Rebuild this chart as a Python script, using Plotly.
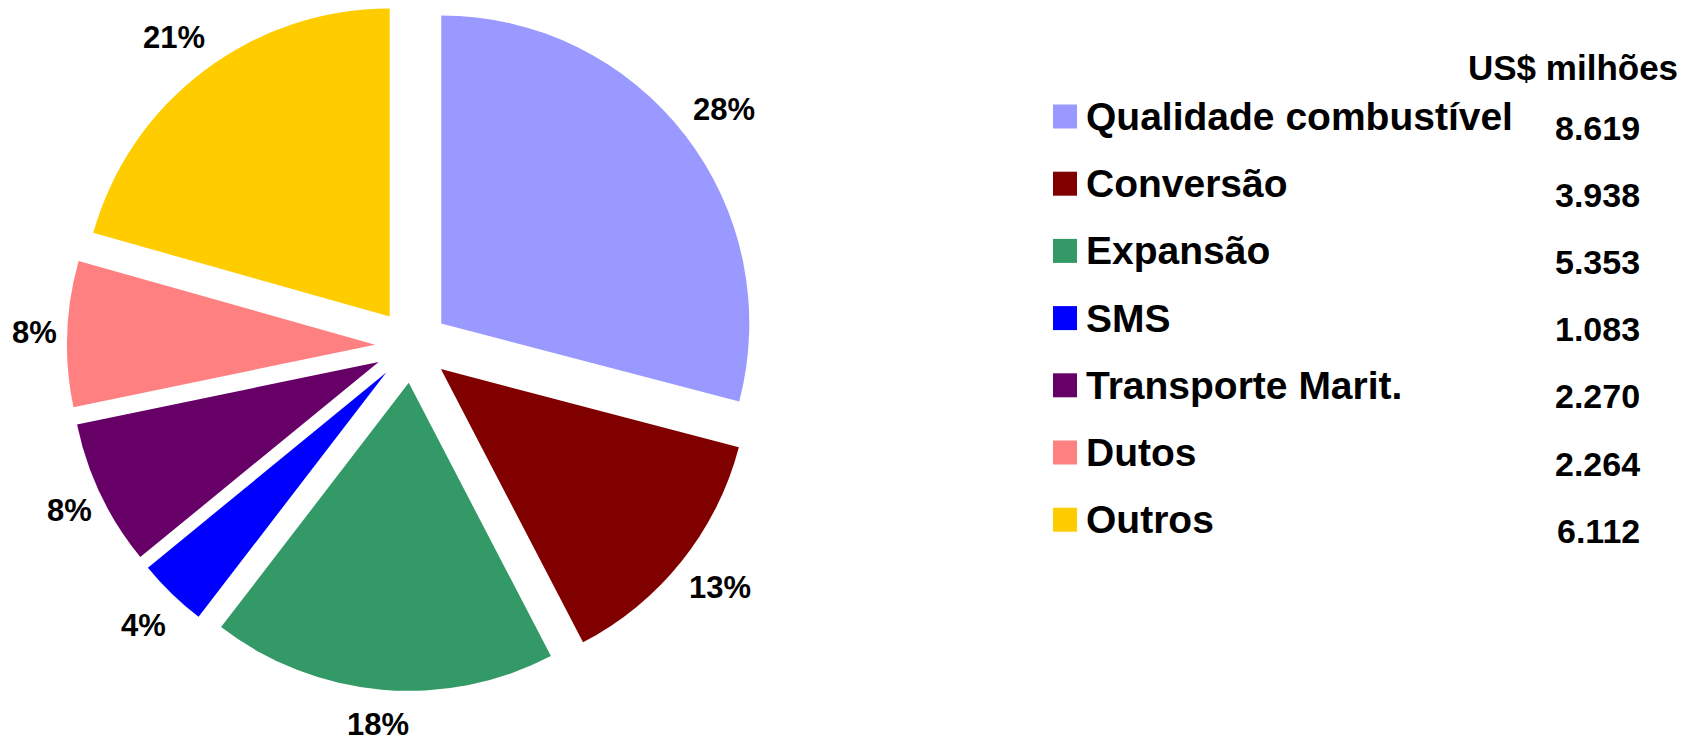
import numpy as np
import plotly.graph_objects as go

categories = ["Qualidade combustível", "Conversão", "Expansão", "SMS",
              "Transporte Marit.", "Dutos", "Outros"]
values = [8619, 3938, 5353, 1083, 2270, 2264, 6112]
value_labels = ["8.619", "3.938", "5.353", "1.083", "2.270", "2.264", "6.112"]
pct_labels = ["28%", "13%", "18%", "4%", "8%", "8%", "21%"]
colors = ["#9999FF", "#800000", "#339966", "#0000FF", "#660066", "#FF8080", "#FFCC00"]
header = "US$ milhões"

W, H = 1708, 745
FONT = "Arial, Liberation Sans, sans-serif"

# pie geometry (pixels)
CX, CY, HALF = 412, 346, 345
PULL = 0.12
LABEL_R0 = 355      # distance from centre where the label box begins
PCT_SIZE = 31
LABEL_HALF_H = 25

fig = go.Figure(go.Pie(
    labels=categories,
    values=values,
    textinfo="none",
    marker=dict(colors=colors, line=dict(width=0)),
    pull=[PULL] * len(values),
    sort=False,
    direction="clockwise",
    rotation=0,
    showlegend=False,
    automargin=False,
    hoverinfo="label+value",
    domain=dict(x=[(CX - HALF) / W, (CX + HALF) / W],
                y=[1 - (CY + HALF) / H, 1 - (CY - HALF) / H]),
))

annotations = []
shapes = []

# percentage labels placed just outside each slice (angles derived from values)
vals = np.array(values, dtype=float)
cum = np.cumsum(vals)
mid = (cum - vals / 2) / vals.sum() * 2 * np.pi
for lab, a in zip(pct_labels, mid):
    dx, dy = np.sin(a), -np.cos(a)
    m = max(abs(dx), abs(dy))
    half_w = (0.556 * (len(lab) - 1) + 0.889) * PCT_SIZE / 2
    px = CX + LABEL_R0 * dx + half_w * dx / m
    py = CY + LABEL_R0 * dy + LABEL_HALF_H * dy / m
    annotations.append(dict(text=lab, xref="paper", yref="paper",
                            x=px / W, y=1 - py / H, xanchor="center", yanchor="middle",
                            showarrow=False,
                            font=dict(family=FONT, size=PCT_SIZE, color="black", weight="bold")))

# Legend built from the category arrays
row0, step = 116.5, 67.2
val0 = 127.5
for i, (cat, col, v) in enumerate(zip(categories, colors, value_labels)):
    yc = row0 + i * step
    shapes.append(dict(type="rect", xref="paper", yref="paper",
                       x0=1053 / W, x1=1077 / W,
                       y0=1 - (yc + 12) / H, y1=1 - (yc - 12) / H,
                       fillcolor=col, line=dict(width=0)))
    annotations.append(dict(text=cat, xref="paper", yref="paper",
                            x=1084 / W, y=1 - yc / H, xanchor="left", yanchor="middle",
                            showarrow=False,
                            font=dict(family=FONT, size=39, color="black", weight="bold")))
    yv = val0 + i * step
    annotations.append(dict(text=v, xref="paper", yref="paper",
                            x=1642 / W, y=1 - yv / H, xanchor="right", yanchor="middle",
                            showarrow=False,
                            font=dict(family=FONT, size=34, color="black", weight="bold")))

annotations.append(dict(text=header, xref="paper", yref="paper",
                        x=1680 / W, y=1 - 67 / H, xanchor="right", yanchor="middle",
                        showarrow=False,
                        font=dict(family=FONT, size=35, color="black", weight="bold")))

fig.update_layout(
    width=W, height=H,
    margin=dict(l=0, r=0, t=0, b=0, autoexpand=False),
    paper_bgcolor="white",
    plot_bgcolor="white",
    annotations=annotations,
    shapes=shapes,
)

fig.write_html("out.html", config={"displayModeBar": False},
               post_script="document.body.style.margin='0';")
